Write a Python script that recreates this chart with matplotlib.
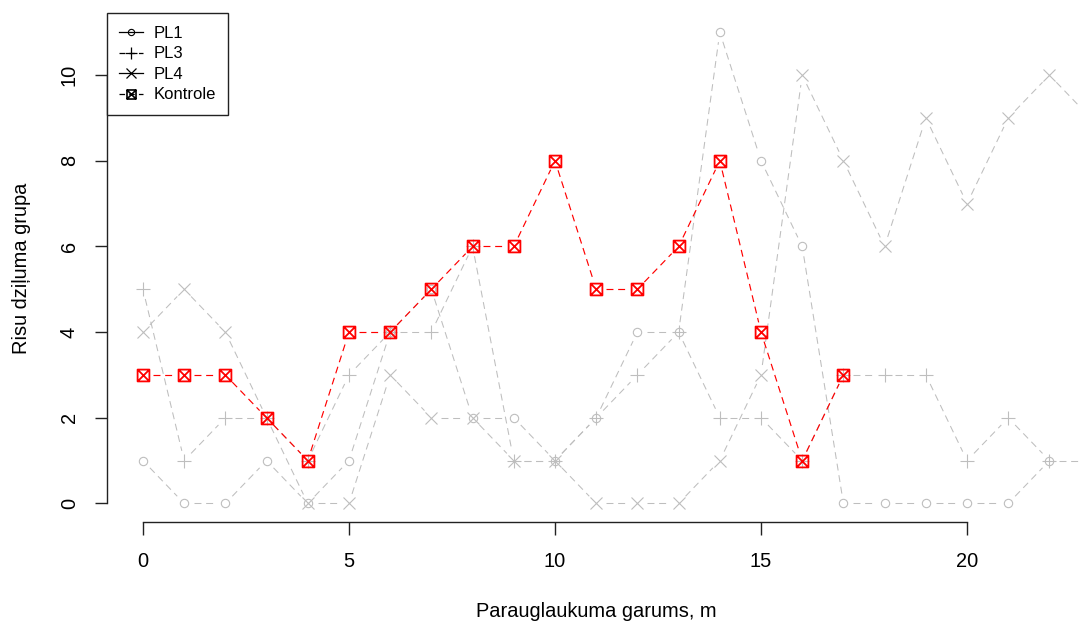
import numpy as np
import matplotlib
matplotlib.use("Agg")
import matplotlib.pyplot as plt
from matplotlib.path import Path
from matplotlib.lines import Line2D

plt.rcParams['font.family'] = ['Liberation Sans', 'DejaVu Sans']
plt.rcParams['lines.scale_dashes'] = False

# ---- data ----
pl1 = [1, 0, 0, 1, 0, 1, 4, 5, 2, 2, 1, 2, 4, 4, 11, 8, 6, 0, 0, 0, 0, 0, 1]
pl3 = [5, 1, 2, 2, 1, 3, 4, 4, 6, 1, 1, 2, 3, 4, 2, 2, 1, 3, 3, 3, 1, 2, 1, 1]
pl4 = [4, 5, 4, 2, 0, 0, 3, 2, 2, 1, 1, 0, 0, 0, 1, 3, 10, 8, 6, 9, 7, 9, 10, 9]
kontrole = [3, 3, 3, 2, 1, 4, 4, 5, 6, 6, 8, 5, 5, 6, 8, 4, 1, 3]
series_names = ["PL1", "PL3", "PL4", "Kontrole"]
x_ticks = [0, 5, 10, 15, 20]
y_ticks = [0, 2, 4, 6, 8, 10]
x_label = "Parauglaukuma garums, m"
y_label = "Risu dziļuma grupa"

W, H = 1079, 627
fig = plt.figure(figsize=(W / 100, H / 100), dpi=100)
left_px, right_px, top_px, bot_px = 106.7, 1085.7, 13.4, 522.3
ax = fig.add_axes([left_px / W, (H - bot_px) / H, (right_px - left_px) / W, (bot_px - top_px) / H])
ax.set_xlim(-0.88, 22.88)
ax.set_ylim(-0.44, 11.44)

for s in ['top', 'right']:
    ax.spines[s].set_visible(False)
ax.spines['left'].set_bounds(0, 10)
ax.spines['bottom'].set_bounds(0, 20)
for s in ['left', 'bottom']:
    ax.spines[s].set_color('#222222')
    ax.spines[s].set_linewidth(1.0)
ax.set_xticks(x_ticks)
ax.set_yticks(y_ticks)
ax.tick_params(axis='both', length=9, width=1.0, color='#222222', labelsize=14.4)
ax.tick_params(axis='x', pad=12.5)
ax.tick_params(axis='y', pad=11)
for lab in ax.get_yticklabels():
    lab.set_rotation(90)
    lab.set_va('center')

ax.set_xlabel(x_label, fontsize=14.4)
ax.xaxis.set_label_coords(0.5, -(602 - bot_px) / (bot_px - top_px))
ax.set_ylabel(y_label, fontsize=14.4)
ax.yaxis.set_label_coords((31 - left_px) / (right_px - left_px), 0.5)

# boxed-x marker (like R pch 7)
boxx = Path([(-1, -1), (1, -1), (1, 1), (-1, 1), (-1, -1), (-1, -1), (1, 1), (-1, 1), (1, -1)],
            [Path.MOVETO, Path.LINETO, Path.LINETO, Path.LINETO, Path.CLOSEPOLY,
             Path.MOVETO, Path.LINETO, Path.MOVETO, Path.LINETO])

GAP = 10.0  # px gap around points, like R type="b"
DASH = (5.0, 3.4)


def draw_b(xs, ys, color, lw, z):
    pts = ax.transData.transform(np.column_stack([xs, ys]).astype(float))
    inv = ax.transData.inverted()
    for p, q in zip(pts[:-1], pts[1:]):
        d = q - p
        L = np.hypot(d[0], d[1])
        if L <= 2 * GAP:
            continue
        u = d / L
        seg = inv.transform(np.array([p + u * GAP, q - u * GAP]))
        ax.plot(seg[:, 0], seg[:, 1], color=color, lw=lw, linestyle=(0, DASH),
                dash_capstyle='butt', zorder=z)


gray = '#BEBEBE'
specs = [
    (pl1, 'o', 6.0, 0.8),
    (pl3, '+', 9.5, 0.8),
    (pl4, 'x', 8.0, 0.8),
]
for vals, mk, ms, mew in specs:
    xs = np.arange(len(vals))
    draw_b(xs, vals, gray, 0.75, 2)
    ax.plot(xs, vals, linestyle='none', marker=mk, markersize=ms, mew=mew,
            mec=gray, mfc='none', zorder=3)

xk = np.arange(len(kontrole))
draw_b(xk, kontrole, 'red', 0.85, 4)
ax.plot(xk, kontrole, linestyle='none', marker=boxx, markersize=8.5, mew=1.3,
        mec='red', mfc='none', zorder=5)

handles = [
    Line2D([], [], color='black', lw=0.9, linestyle='-', marker='o', markersize=4.5, mfc='none', mew=0.8),
    Line2D([], [], color='black', lw=0.9, linestyle=(0, (4, 3)), marker='+', markersize=9, mew=0.9),
    Line2D([], [], color='black', lw=0.9, linestyle='-', marker='x', markersize=7, mew=0.9),
    Line2D([], [], color='black', lw=0.9, linestyle=(0, (4, 3)), marker=boxx, markersize=6.5, mfc='none', mew=1.2),
]
leg = ax.legend(handles, series_names, loc='upper left', bbox_to_anchor=(0, 1), borderaxespad=0,
                fontsize=12, frameon=True, fancybox=False, framealpha=1, edgecolor='#222222',
                handlelength=1.45, handletextpad=0.6, labelspacing=0.33, borderpad=0.75)
leg.get_frame().set_linewidth(1.0)
leg.set_zorder(10)

fig.savefig('out.png', dpi=100)
